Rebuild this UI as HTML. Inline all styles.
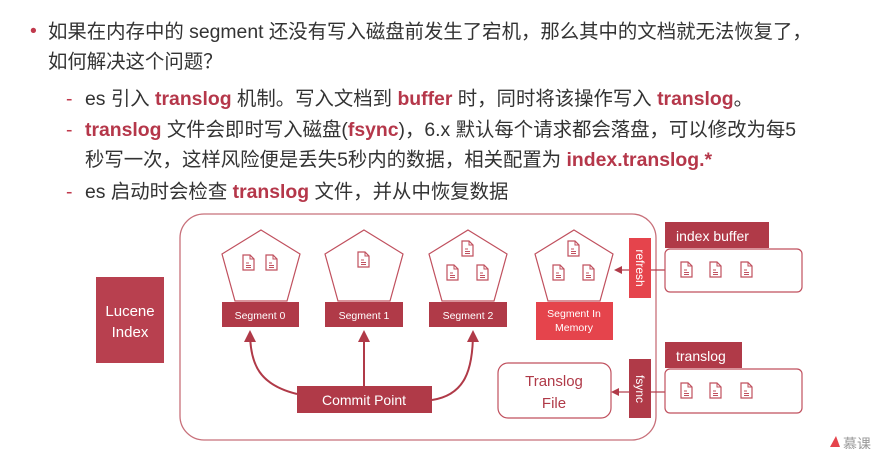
<!DOCTYPE html>
<html><head><meta charset="utf-8"><style>
html,body{margin:0;padding:0;background:#fff;width:879px;height:449px;overflow:hidden}
.t{position:absolute;font-family:"Liberation Sans","Noto Sans CJK SC",sans-serif;font-size:19.4px;color:#333;white-space:nowrap;line-height:20px}
.r{color:#b5374a;font-weight:bold}
</style></head><body>
<div class="t" style="left:30px;top:21px;color:#c0394c">•</div>
<div class="t" style="left:48px;top:22px">如果在内存中的 segment 还没有写入磁盘前发生了宕机，那么其中的文档就无法恢复了，</div>
<div class="t" style="left:48px;top:52px">如何解决这个问题？</div>
<div class="t" style="left:66px;top:89px;color:#c0394c">-</div>
<div class="t" style="left:85px;top:89px">es 引入 <span class="r">translog</span> 机制。写入文档到 <span class="r">buffer</span> 时，同时将该操作写入 <span class="r">translog</span>。</div>
<div class="t" style="left:66px;top:120px;color:#c0394c">-</div>
<div class="t" style="left:85px;top:120px"><span class="r">translog</span> 文件会即时写入磁盘(<span class="r">fsync</span>)，6.x 默认每个请求都会落盘，可以修改为每5</div>
<div class="t" style="left:85px;top:150px">秒写一次，这样风险便是丢失5秒内的数据，相关配置为 <span class="r">index.translog.*</span></div>
<div class="t" style="left:66px;top:182px;color:#c0394c">-</div>
<div class="t" style="left:85px;top:182px">es 启动时会检查 <span class="r">translog</span> 文件，并从中恢复数据</div>

<svg width="879" height="449" style="position:absolute;left:0;top:0" font-family="Liberation Sans, sans-serif">
<defs>
<g id="d"><path d="M0 0 H7 L11 4 V15 H0 Z" fill="#fff" stroke="#c0505e" stroke-width="1.2"/><path d="M7 0 V4 H11" fill="none" stroke="#c0505e" stroke-width="1"/><path d="M3 8 H6 M3 10.5 H8 M3 12.5 H8" stroke="#c0505e" stroke-width="1"/></g>
<marker id="a" markerWidth="8" markerHeight="8" refX="6" refY="4" orient="auto" markerUnits="userSpaceOnUse"><path d="M0 0 L8 4 L0 8 Z" fill="#b03a48"/></marker>
<marker id="b" markerWidth="12" markerHeight="12" refX="10" refY="6" orient="auto" markerUnits="userSpaceOnUse"><path d="M0 0 L12 6 L0 12 Z" fill="#b03a48"/></marker>
</defs>
<rect x="180" y="214" width="476" height="226" rx="24" fill="none" stroke="#c8707a" stroke-width="1.3"/>
<rect x="96" y="277" width="68" height="86" fill="#b8404f"/>
<text x="130" y="316" fill="#fff" font-size="15" text-anchor="middle">Lucene</text>
<text x="130" y="337" fill="#fff" font-size="15" text-anchor="middle">Index</text>

<g fill="none" stroke="#c0505e" stroke-width="1.2">
<path d="M261 230 L300 254 L287 301 L235 301 L222 254 Z"/>
<path d="M364 230 L403 254 L390 301 L338 301 L325 254 Z"/>
<path d="M468 230 L507 254 L494 301 L442 301 L429 254 Z"/>
<path d="M574 230 L613 254 L600 301 L548 301 L535 254 Z"/>
</g>
<use href="#d" x="243" y="255"/><use href="#d" x="266" y="255"/>
<use href="#d" x="358" y="252"/>
<use href="#d" x="462" y="241"/><use href="#d" x="447" y="265"/><use href="#d" x="477" y="265"/>
<use href="#d" x="568" y="241"/><use href="#d" x="553" y="265"/><use href="#d" x="583" y="265"/>

<rect x="222" y="302" width="77" height="25" fill="#b03a48"/>
<text x="260" y="319" fill="#fff" font-size="10.5" text-anchor="middle">Segment 0</text>
<rect x="325" y="302" width="78" height="25" fill="#b03a48"/>
<text x="364" y="319" fill="#fff" font-size="10.5" text-anchor="middle">Segment 1</text>
<rect x="429" y="302" width="78" height="25" fill="#b03a48"/>
<text x="468" y="319" fill="#fff" font-size="10.5" text-anchor="middle">Segment 2</text>
<rect x="536" y="302" width="77" height="38" fill="#e5444c"/>
<text x="574" y="317" fill="#fff" font-size="10.5" text-anchor="middle">Segment In</text>
<text x="574" y="331" fill="#fff" font-size="10.5" text-anchor="middle">Memory</text>

<rect x="297" y="386" width="135" height="27" fill="#b03a48"/>
<text x="364" y="405" fill="#fff" font-size="14" text-anchor="middle">Commit Point</text>
<g fill="none" stroke="#b03a48" stroke-width="2">
<path d="M364 386 V332" marker-end="url(#b)"/>
<path d="M297 394 C260 385 250 365 250 332" marker-end="url(#b)"/>
<path d="M432 400 C465 395 473 370 473 332" marker-end="url(#b)"/>
</g>

<rect x="498" y="363" width="113" height="55" rx="10" fill="#fff" stroke="#c0505e" stroke-width="1.2"/>
<text x="554" y="386" fill="#b03a48" font-size="15" text-anchor="middle">Translog</text>
<text x="554" y="408" fill="#b03a48" font-size="15" text-anchor="middle">File</text>

<rect x="629" y="238" width="22" height="60" fill="#e5444c"/>
<text transform="translate(636,268) rotate(90)" fill="#fff" font-size="12" text-anchor="middle">refresh</text>
<rect x="629" y="359" width="22" height="59" fill="#b03a48"/>
<text transform="translate(636,389) rotate(90)" fill="#fff" font-size="12" text-anchor="middle">fsync</text>

<g stroke="#b03a48" stroke-width="1.2" fill="none">
<path d="M629 270 H616" marker-end="url(#a)"/>
<path d="M629 392 H613" marker-end="url(#a)"/>
<path d="M651 270 H665"/>
<path d="M651 392 H665"/>
</g>

<rect x="665" y="222" width="104" height="26" fill="#b03a48"/>
<text x="676" y="241" fill="#fff" font-size="14">index buffer</text>
<rect x="665" y="249" width="137" height="43" rx="5" fill="#fff" stroke="#c0505e" stroke-width="1.2"/>
<use href="#d" x="681" y="262"/><use href="#d" x="710" y="262"/><use href="#d" x="741" y="262"/>

<rect x="665" y="342" width="77" height="26" fill="#b03a48"/>
<text x="676" y="361" fill="#fff" font-size="14">translog</text>
<rect x="665" y="369" width="137" height="44" rx="5" fill="#fff" stroke="#c0505e" stroke-width="1.2"/>
<use href="#d" x="681" y="383"/><use href="#d" x="710" y="383"/><use href="#d" x="741" y="383"/>

<path d="M830 447 L836 436 L840 447 Z" fill="#e5444c"/>
<text x="843" y="449" fill="#999" font-size="14" font-family="Noto Sans CJK SC, sans-serif">慕课</text>
</svg>
</body></html>
